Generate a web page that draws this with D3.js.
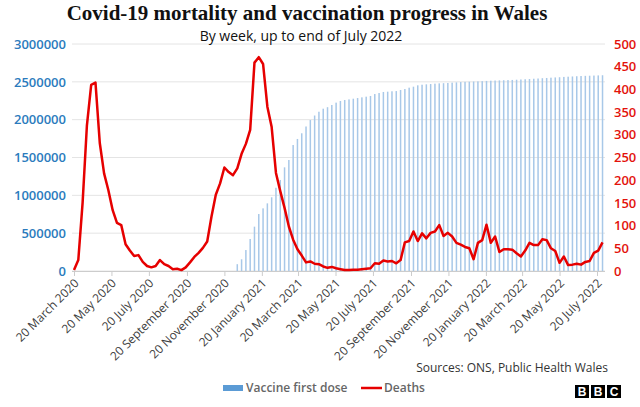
<!DOCTYPE html>
<html><head><meta charset="utf-8">
<script src="https://cdn.jsdelivr.net/npm/d3@7"></script>
<style>body{margin:0;background:#fff}svg{display:block}</style>
</head><body>
<svg id="c" width="640" height="407"></svg>
<script>
// ---- data ----
const firstDeathsWeek = "2020-03-20";          // week ending dates, weekly
const deaths = [2,24,150,320,410,415,282,215,178,134,
106,101,59,45,33,35,20,11,8,11,
24,15,11,4,5,2,8,19,31,40,
51,65,120,168,193,228,218,211,226,258,
280,311,459,471,456,362,317,216,176,139,
98,69,48,34,19,21,16,15,10,7,
9,6,4,2,2,3,3,4,5,6,
17,16,23,21,22,17,24,63,66,87,
66,83,72,84,87,101,77,84,76,62,
58,53,50,26,62,68,102,62,76,42,
48,48,47,39,32,45,62,57,57,70,
68,50,44,18,32,13,14,16,14,20,
22,40,45,63];
const firstVaccineWeek = "2020-12-11";
const vaccineFirstDose = [90000,155000,277000,423000,586000,753000,828000,894000,974000,1100000,
1203000,1370000,1467000,1665000,1745000,1820000,1910000,1995000,2055000,2105000,
2145000,2165000,2194000,2225000,2247000,2260000,2268000,2277000,2286000,2295000,
2304000,2313000,2339000,2352000,2366000,2370000,2375000,2378000,2392000,2405000,
2423000,2436000,2454000,2462000,2467000,2471000,2476000,2480000,2482000,2485000,
2489000,2493000,2497000,2500000,2502000,2504000,2506000,2509000,2512000,2515000,
2517000,2519000,2521000,2523000,2525000,2528000,2531000,2534000,2537000,2541000,
2544000,2548000,2551000,2555000,2558000,2561000,2565000,2568000,2571000,2574000,
2577000,2579000,2581000,2583000,2585000,2587000];
const xTickLabels = ["20 March 2020","20 May 2020","20 July 2020","20 September 2020","20 November 2020",
"20 January 2021","20 March 2021","20 May 2021","20 July 2021","20 September 2021","20 November 2021",
"20 January 2022","20 March 2022","20 May 2022","20 July 2022"];
const leftTicks = [0,500000,1000000,1500000,2000000,2500000,3000000];
const rightTicks = [0,50,100,150,200,250,300,350,400,450,500];

// ---- build ----
const parseISO = d3.timeParse("%Y-%m-%d");
const parseLbl = d3.timeParse("%d %B %Y");
const dStart = parseISO(firstDeathsWeek), vStart = parseISO(firstVaccineWeek);
const deathRows = deaths.map((v,i)=>({date:d3.timeDay.offset(dStart,7*i), v}));
const vacRows = vaccineFirstDose.map((v,i)=>({date:d3.timeDay.offset(vStart,7*i), v}));
const tickDates = xTickLabels.map(parseLbl);

const svg = d3.select("#c");
const font = "'Open Sans', 'Noto Sans', sans-serif";
const x = d3.scaleTime().domain([tickDates[0], tickDates[tickDates.length-1]]).range([74, 597]);
const yL = d3.scaleLinear().domain([0,3000000]).range([271,44]);
const yR = d3.scaleLinear().domain([0,500]).range([271,44]);

// gridlines
svg.append("g").selectAll("line").data(leftTicks).join("line")
  .attr("x1",72).attr("x2",605).attr("y1",d=>yL(d)).attr("y2",d=>yL(d))
  .attr("stroke","#e4e4e4").attr("stroke-width",1);

// bars
svg.append("g").selectAll("rect").data(vacRows).join("rect")
  .attr("x",d=>x(d.date)-0.75).attr("width",1.5)
  .attr("y",d=>yL(d.v)).attr("height",d=>yL(0)-yL(d.v))
  .attr("fill","#a8c8e8");

// x axis
const xa = svg.append("g").attr("transform","translate(0,271)")
  .call(d3.axisBottom(x).tickValues(tickDates).tickSize(5).tickFormat((d,i)=>xTickLabels[i]));
xa.select(".domain").attr("stroke","#cccccc").attr("d","M72,0.5H605");
xa.selectAll(".tick line").attr("stroke","#cccccc");
xa.selectAll(".tick text").attr("font-family",font).attr("font-size",12).attr("fill","#404040")
  .attr("text-anchor","end").attr("dy",0).attr("y",0)
  .attr("transform","translate(5,13) rotate(-45)");

// left axis
const la = svg.append("g").attr("transform","translate(72,0)")
  .call(d3.axisLeft(yL).tickValues(leftTicks).tickSize(0).tickPadding(6).tickFormat(d3.format("d")));
la.select(".domain").remove();
la.selectAll("text").attr("font-family",font).attr("font-size",13).attr("font-weight",600).attr("fill","#2b7bbd");

// right axis
const ra = svg.append("g").attr("transform","translate(608,0)")
  .call(d3.axisRight(yR).tickValues(rightTicks).tickSize(0).tickPadding(6).tickFormat(d3.format("d")));
ra.select(".domain").remove();
ra.selectAll("text").attr("font-family",font).attr("font-size",13).attr("font-weight",600).attr("fill","#e3120b");

// deaths line
svg.append("path").datum(deathRows)
  .attr("d", d3.line().x(d=>x(d.date)).y(d=>yR(d.v)))
  .attr("fill","none").attr("stroke","#e60000").attr("stroke-width",2.5).attr("stroke-linejoin","round");

// titles
svg.append("text").attr("x",307).attr("y",20).attr("text-anchor","middle")
  .attr("font-family","'Liberation Serif', 'DejaVu Serif', serif").attr("font-weight","bold").attr("font-size",21)
  .attr("fill","#111").text("Covid-19 mortality and vaccination progress in Wales");
svg.append("text").attr("x",301).attr("y",41).attr("text-anchor","middle")
  .attr("font-family",font).attr("font-size",14).attr("fill","#111")
  .text("By week, up to end of July 2022");

// source
svg.append("text").attr("x",608).attr("y",372).attr("text-anchor","end")
  .attr("font-family",font).attr("font-size",12).attr("fill","#333")
  .text("Sources: ONS, Public Health Wales");

// legend
const lg = svg.append("g").attr("font-family",font).attr("font-size",12).attr("font-weight",600).attr("fill","#666");
lg.append("rect").attr("x",223).attr("y",385).attr("width",20).attr("height",6).attr("fill","#5b9bd5");
lg.append("text").attr("x",246).attr("y",392).text("Vaccine first dose");
lg.append("line").attr("x1",361).attr("x2",382).attr("y1",388).attr("y2",388).attr("stroke","#e60000").attr("stroke-width",2.5);
lg.append("text").attr("x",384).attr("y",392).text("Deaths");

// BBC logo
const logo = svg.append("g").attr("transform","translate(575,385)");
["B","B","C"].forEach((ch,i)=>{
  logo.append("rect").attr("x",i*16).attr("y",0).attr("width",14).attr("height",13).attr("fill","#000");
  logo.append("text").attr("x",i*16+7).attr("y",11).attr("text-anchor","middle")
    .attr("font-family","'Liberation Sans', Arial, sans-serif").attr("font-weight","bold").attr("font-size",12)
    .attr("fill","#fff").text(ch);
});
</script>
</body></html>
